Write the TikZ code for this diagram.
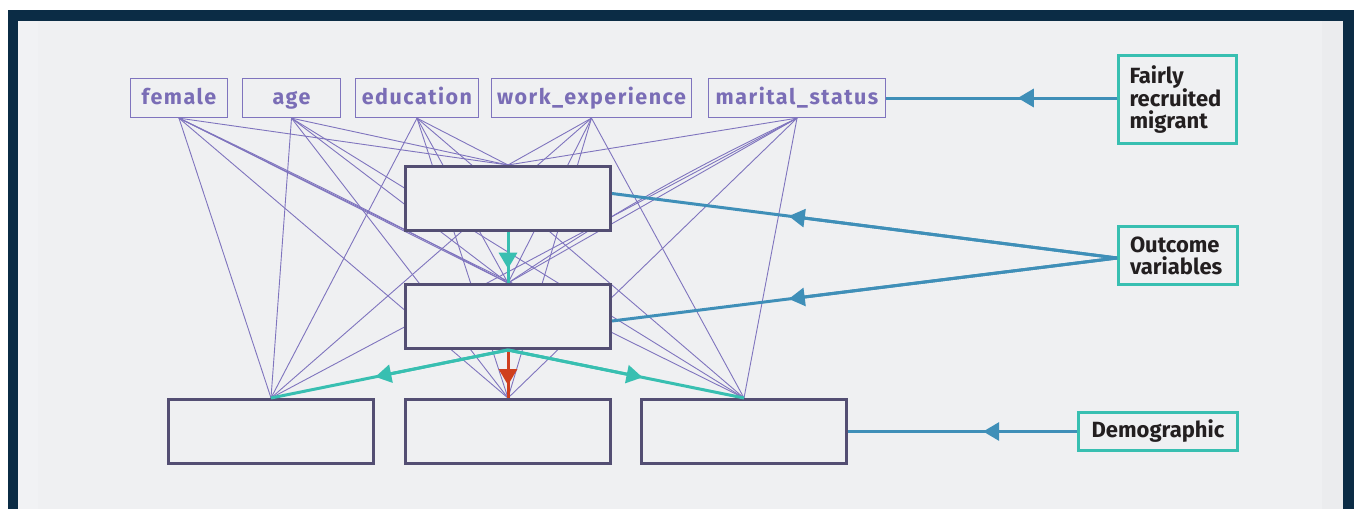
\documentclass[tikz,border=0pt]{standalone}
\usepackage{fontspec}
\setmainfont{Fira Sans}
\newfontfamily\varfont{Fira Sans}[LetterSpace=7]
\usetikzlibrary{arrows.meta,calc}

\definecolor{navy}{HTML}{0B2C45}
\definecolor{panel}{HTML}{EFF0F2}
\definecolor{panelL}{HTML}{F1F2F4}
\definecolor{panelR}{HTML}{EBECEE}
\definecolor{varpurple}{HTML}{7A6DB6}
\definecolor{edgepurple}{HTML}{7F74BE}
\definecolor{boxdark}{HTML}{534E73}
\definecolor{mint}{HTML}{38BFB1}
\definecolor{steel}{HTML}{3F8FB8}
\definecolor{rust}{HTML}{CF3F1E}
\definecolor{inktext}{HTML}{231F20}

\pgfdeclarelayer{back}
\pgfdeclarelayer{edges}
\pgfsetlayers{back,edges,main}

\tikzset{
  varbox/.style={draw=edgepurple, line width=1.3pt, fill=panel, minimum height=39pt,
    inner sep=0pt, text height=16pt, text depth=3pt, text=varpurple,
    font=\varfont\bfseries\fontsize{21.5}{21.5}\selectfont},
  mbox/.style={draw=boxdark, line width=3pt, fill=panel, minimum width=205pt,
    minimum height=64pt, inner sep=0pt},
  keybox/.style={draw=mint, line width=3pt, fill=panel, text=inktext, inner sep=0pt,
    font=\bfseries\fontsize{22}{22}\selectfont},
  varline/.style={draw=edgepurple, line width=0.9pt},
  mintline/.style={draw=mint, line width=3pt},
  rustline/.style={draw=rust, line width=3pt},
  steelline/.style={draw=steel, line width=3pt},
  tip/.style={-{Triangle[length=16pt,width=18pt]}},
}

\begin{document}
\begin{tikzpicture}[x=1pt,y=-1pt]
\useasboundingbox (0,0) rectangle (1354,509);

% frame and panel
\begin{pgfonlayer}{back}
  \fill[white] (0,0) rectangle (1354,509);
  \fill[navy] (8,10) rectangle (1354,509);
  \fill[panel] (18,21) rectangle (1343,509);
  \fill[panelL] (18,21) rectangle (38,509);
  \fill[panelR] (1322,21) rectangle (1343,509);
\end{pgfonlayer}

% variables
\node[varbox, minimum width=97pt]  (female)  at (179,98)   {female};
\node[varbox, minimum width=98pt]  (age)     at (291.5,98) {age};
\node[varbox, minimum width=123pt] (educ)    at (417,98)   {education};
\node[varbox, minimum width=200pt] (work)    at (591.5,98) {work\_experience};
\node[varbox, minimum width=177pt] (marital) at (797,98)   {marital\_status};

% model boxes
\node[mbox] (A) at (508,198.5) {};
\node[mbox] (B) at (508,316.5) {};
\node[mbox] (C) at (271,431.5) {};
\node[mbox] (D) at (508,431.5) {};
\node[mbox] (E) at (744,431.5) {};

% legend boxes
\node[keybox, minimum width=118pt, minimum height=88pt, text width=96pt, align=left]
  (fair) at (1177.5,99.5) {Fairly\\recruited\\migrant};
\node[keybox, minimum width=119pt, minimum height=58pt, text width=96pt, align=left]
  (outc) at (1178,255.5) {Outcome\\variables};
\node[keybox, minimum width=159pt, minimum height=38pt, text height=16pt, text depth=4pt]
  (demo) at (1158,431.5) {Demographic};

% thin links from every variable to every box
\begin{pgfonlayer}{edges}
  \foreach \v in {female,age,educ,work,marital}
    \foreach \b in {A,B,C,D,E}
      \draw[varline] (\v.south) -- (\b.north);
  \draw[varline] (female.south) to[bend left=1] (B.north);
  \draw[varline] (marital.south) to[bend right=4] (B.north);
\end{pgfonlayer}

% paths between the boxes
\draw[mintline] (A.south) -- (B.north);
\draw[mintline, tip] (A.south) -- ($(A.south)!0.72!(B.north)$);
\draw[rustline] (B.south) -- (D.north);
\draw[rustline, tip] (B.south) -- ($(B.south)!0.73!(D.north)$);
\draw[mintline] (B.south) -- (C.north);
\draw[mintline, tip] (B.south) -- ($(B.south)!0.56!(C.north)$);
\draw[mintline] (B.south) -- (E.north);
\draw[mintline, tip] (B.south) -- ($(B.south)!0.57!(E.north)$);

% legend connectors
\coordinate (fairIn) at (marital.east -| fair.west);
\draw[steelline] (fairIn) -- (marital.east);
\draw[steelline, tip] (fairIn) -- ($(fairIn)!0.43!(marital.east)$);

\coordinate (outIn) at ([yshift=-2.5pt]outc.west);
\coordinate (aOut) at ([yshift=5pt]A.east);
\coordinate (bOut) at ([yshift=-4.5pt]B.east);
\draw[steelline] (outIn) -- (aOut);
\draw[steelline, tip] (outIn) -- ($(outIn)!0.65!(aOut)$);
\draw[steelline] (outIn) -- (bOut);
\draw[steelline, tip] (outIn) -- ($(outIn)!0.65!(bOut)$);

\draw[steelline] (demo.west) -- (E.east);
\draw[steelline, tip] (demo.west) -- ($(demo.west)!0.41!(E.east)$);
\end{tikzpicture}
\end{document}
